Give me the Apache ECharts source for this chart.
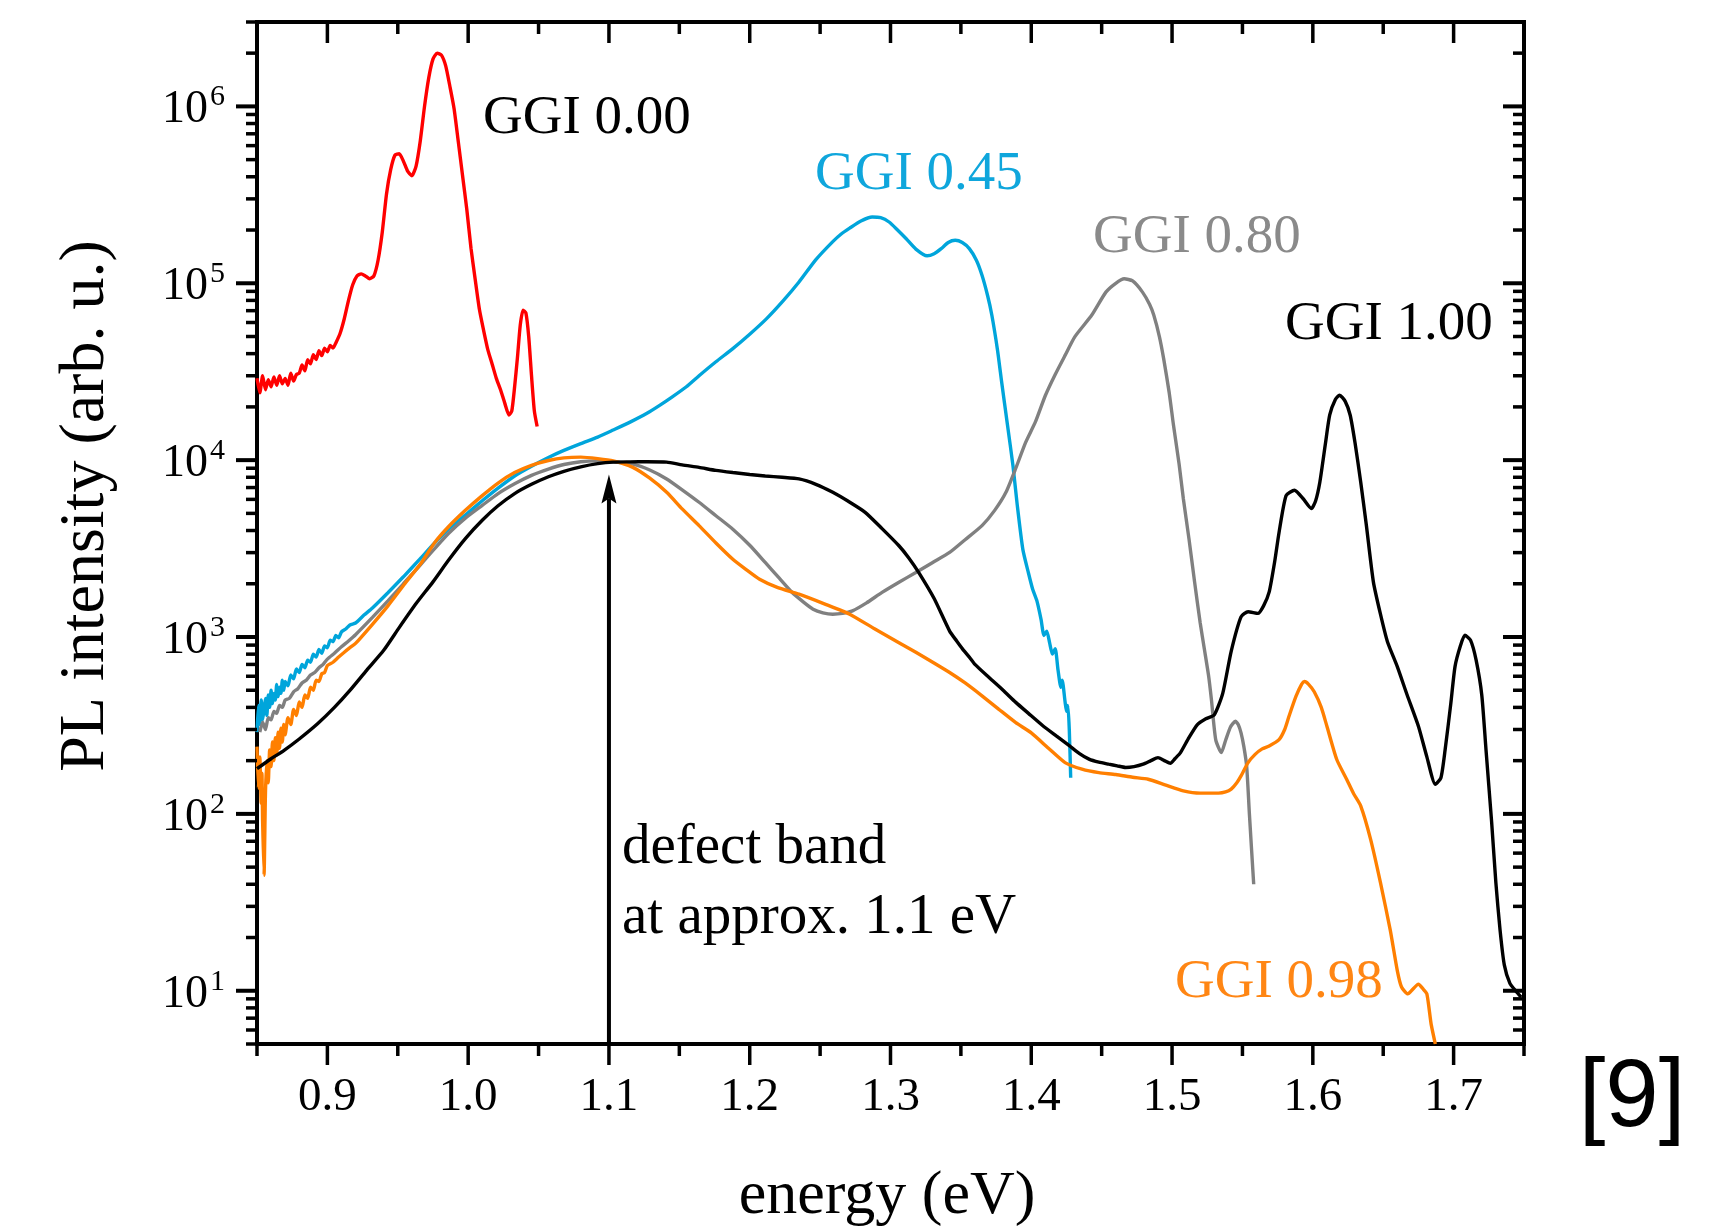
<!DOCTYPE html>
<html>
<head>
<meta charset="utf-8">
<title>PL spectra</title>
<script src="https://cdn.jsdelivr.net/npm/echarts@6/dist/echarts.min.js"></script>
<style>
  html, body { margin: 0; padding: 0; background: #fff; }
  #chart { width: 1732px; height: 1231px; }
</style>
</head>
<body>
<div id="chart"></div>
<script>
// Axis ranges
const X_MIN = 0.85, X_MAX = 1.75;
const Y_MIN = 5, Y_MAX = 3e6;

// Tick positions and labels
const xMajorTicks = [0.9, 1.0, 1.1, 1.2, 1.3, 1.4, 1.5, 1.6, 1.7];
const xTickLabels = ['0.9', '1.0', '1.1', '1.2', '1.3', '1.4', '1.5', '1.6', '1.7'];
const xMinorTicks = [0.85, 0.95, 1.05, 1.15, 1.25, 1.35, 1.45, 1.55, 1.65, 1.75];
const yMajorTicks = [1e1, 1e2, 1e3, 1e4, 1e5, 1e6];
const yTickExponents = ['1', '2', '3', '4', '5', '6'];
const yMinorTicks = [5, 6, 7, 8, 9,
  20, 30, 40, 50, 60, 70, 80, 90,
  200, 300, 400, 500, 600, 700, 800, 900,
  2e3, 3e3, 4e3, 5e3, 6e3, 7e3, 8e3, 9e3,
  2e4, 3e4, 4e4, 5e4, 6e4, 7e4, 8e4, 9e4,
  2e5, 3e5, 4e5, 5e5, 6e5, 7e5, 8e5, 9e5,
  2e6, 3e6];

// GGI 0.00
const ggi000Energy = [0.850,0.852,0.854,0.856,0.858,0.860,0.862,0.864,0.866,0.868,0.870,0.872,0.874,0.876,0.878,0.880,0.882,0.884,0.886,0.888,0.890,0.892,0.894,0.896,0.898,0.900,0.902,0.904,0.906,0.909,0.912,0.915,0.918,0.921,0.924,0.927,0.930,0.933,0.936,0.939,0.942,0.945,0.948,0.951,0.954,0.957,0.960,0.963,0.966,0.969,0.972,0.975,0.978,0.981,0.984,0.987,0.990,0.993,0.996,0.999,1.002,1.005,1.008,1.011,1.014,1.017,1.020,1.023,1.026,1.029,1.031,1.033,1.035,1.037,1.039,1.041,1.043,1.045,1.047,1.049];
const ggi000Intensity = [29000,24000,30000,25000,28500,26000,29500,26500,30000,27000,29000,26500,31000,28000,30500,31000,34500,32000,37000,35000,39500,37000,41500,39000,43000,41000,44500,43000,46000,52000,63000,80000,98000,110000,113000,110000,106000,110000,135000,195000,320000,440000,530000,540000,490000,430000,405000,460000,640000,1000000,1450000,1850000,2000000,1950000,1700000,1300000,970000,630000,407000,263000,158000,105000,71000,54000,42000,35000,29000,25000,21000,18000,19000,26000,38000,58000,70500,68000,50000,30000,19000,15500];

// GGI 0.45
const ggi045Energy = [0.850,0.851,0.852,0.853,0.854,0.855,0.856,0.857,0.858,0.859,0.860,0.861,0.862,0.863,0.864,0.865,0.866,0.867,0.868,0.869,0.870,0.872,0.874,0.876,0.878,0.880,0.882,0.884,0.886,0.888,0.890,0.892,0.894,0.896,0.898,0.900,0.902,0.904,0.906,0.908,0.910,0.913,0.916,0.920,0.926,0.932,0.943,0.954,0.965,0.976,0.986,0.998,1.010,1.021,1.033,1.045,1.057,1.068,1.080,1.092,1.103,1.115,1.127,1.136,1.145,1.155,1.164,1.176,1.188,1.200,1.212,1.224,1.235,1.247,1.259,1.265,1.271,1.279,1.287,1.293,1.299,1.305,1.311,1.318,1.326,1.331,1.336,1.341,1.346,1.351,1.356,1.361,1.365,1.369,1.372,1.376,1.379,1.383,1.387,1.390,1.394,1.398,1.401,1.404,1.407,1.409,1.411,1.413,1.415,1.417,1.419,1.421,1.422,1.424,1.425,1.426,1.427,1.428];
const ggi045Intensity = [290,410,320,440,340,390,450,360,470,400,500,420,480,440,540,460,520,480,570,500,560,530,610,580,660,630,700,670,740,720,800,770,850,810,890,870,960,940,1020,990,1070,1110,1170,1200,1330,1460,1780,2190,2720,3390,4070,4900,5890,6920,8130,9230,10350,11350,12400,13500,14800,16400,18400,20400,22800,26000,30000,36000,42700,51500,63100,80000,101600,136000,172000,190000,205000,225000,237000,235000,222000,200000,179000,156000,143000,147000,157000,170000,175000,170000,157000,135000,111000,85000,66000,42000,27500,16000,9300,5600,3130,2300,1860,1600,1250,1020,1080,930,800,860,650,520,570,430,380,410,300,160];

// GGI 0.80
const ggi080Energy = [0.852,0.854,0.856,0.858,0.860,0.862,0.864,0.866,0.868,0.870,0.873,0.876,0.879,0.882,0.885,0.888,0.891,0.894,0.897,0.900,0.905,0.910,0.915,0.920,0.932,0.943,0.954,0.965,0.976,0.986,0.998,1.010,1.021,1.033,1.045,1.057,1.068,1.080,1.092,1.103,1.117,1.129,1.141,1.152,1.164,1.176,1.188,1.200,1.211,1.221,1.230,1.238,1.245,1.252,1.259,1.266,1.273,1.283,1.294,1.306,1.318,1.330,1.342,1.353,1.365,1.374,1.382,1.389,1.396,1.403,1.410,1.417,1.424,1.431,1.443,1.453,1.460,1.466,1.472,1.479,1.484,1.487,1.491,1.494,1.498,1.501,1.505,1.508,1.512,1.516,1.520,1.523,1.526,1.528,1.531,1.535,1.538,1.5415,1.545,1.547,1.549,1.551,1.553,1.555,1.558];
const ggi080Intensity = [290,330,300,350,340,380,370,410,400,440,450,490,510,550,570,610,630,670,700,750,810,880,950,1030,1290,1600,2000,2500,3150,3850,4700,5550,6450,7350,8200,8900,9450,9800,9900,9800,9500,8800,7830,6800,5780,4850,4070,3300,2640,2150,1790,1580,1435,1370,1346,1360,1406,1560,1787,2040,2317,2640,3007,3550,4265,5200,6580,9000,12600,16500,23200,30500,39100,49900,66100,89100,100000,106000,103000,89100,76000,66100,50000,37600,24000,15800,9500,6070,3600,2050,1200,850,600,440,263,222,260,310,334,320,287,240,186,98,40];

// GGI 0.98
const ggi098Energy = [0.850,0.851,0.852,0.853,0.8535,0.854,0.855,0.856,0.857,0.858,0.859,0.860,0.861,0.862,0.863,0.864,0.865,0.866,0.867,0.868,0.869,0.870,0.872,0.874,0.876,0.878,0.880,0.882,0.884,0.886,0.888,0.890,0.892,0.894,0.896,0.898,0.900,0.904,0.908,0.912,0.916,0.920,0.932,0.943,0.955,0.967,0.976,0.986,0.998,1.010,1.021,1.033,1.045,1.057,1.068,1.080,1.092,1.103,1.117,1.129,1.141,1.152,1.164,1.176,1.188,1.197,1.207,1.220,1.235,1.253,1.271,1.288,1.306,1.318,1.330,1.342,1.353,1.365,1.377,1.389,1.400,1.413,1.424,1.436,1.448,1.460,1.472,1.483,1.495,1.508,1.520,1.533,1.538,1.542,1.546,1.549,1.554,1.559,1.564,1.569,1.576,1.580,1.583,1.588,1.592,1.594,1.597,1.601,1.606,1.610,1.617,1.624,1.629,1.634,1.641,1.648,1.655,1.660,1.663,1.6675,1.671,1.675,1.678,1.681,1.684,1.687];
const ggi098Intensity = [240,140,210,115,170,90,45,130,200,150,230,185,255,200,270,215,290,235,305,255,320,280,350,320,390,360,430,400,470,450,520,500,570,560,620,630,690,720,770,820,870,920,1180,1500,2000,2650,3400,4200,5200,6300,7400,8500,9350,9950,10300,10400,10200,9900,9100,7900,6580,5300,4265,3400,2750,2420,2120,1900,1747,1540,1346,1120,929,820,720,630,550,465,390,328,287,232,195,179,171,167,161,157,146,135,131,131,133,138,150,164,195,217,233,242,263,300,355,461,540,560,540,490,400,313,203,157,130,111,72,41,22,13,10.5,9.6,10.2,10.9,10.3,9.6,6.5,5];

// GGI 1.00
const ggi100Energy = [0.850,0.860,0.869,0.880,0.893,0.905,0.916,0.928,0.940,0.951,0.963,0.975,0.986,0.998,1.010,1.021,1.033,1.045,1.057,1.068,1.080,1.092,1.103,1.115,1.127,1.141,1.152,1.164,1.176,1.188,1.200,1.211,1.223,1.235,1.247,1.259,1.270,1.282,1.294,1.306,1.313,1.320,1.331,1.342,1.347,1.351,1.356,1.360,1.370,1.380,1.389,1.398,1.408,1.418,1.427,1.434,1.441,1.448,1.455,1.461,1.467,1.473,1.4795,1.485,1.490,1.4945,1.4988,1.502,1.506,1.512,1.518,1.524,1.530,1.536,1.542,1.549,1.554,1.561,1.565,1.569,1.573,1.576,1.581,1.587,1.593,1.599,1.602,1.605,1.609,1.612,1.616,1.619,1.623,1.6265,1.630,1.634,1.638,1.643,1.648,1.653,1.660,1.667,1.675,1.681,1.687,1.691,1.694,1.698,1.701,1.705,1.708,1.712,1.716,1.720,1.723,1.727,1.730,1.733,1.736,1.740,1.744,1.748];
const ggi100Intensity = [180,205,228,265,323,400,499,650,841,1130,1545,2050,2716,3600,4571,5500,6471,7300,8054,8650,9162,9550,9750,9780,9800,9750,9400,9100,8750,8510,8300,8130,8000,7830,7300,6580,5850,5070,4100,3280,2800,2320,1650,1080,950,860,770,700,590,500,427,370,316,275,243,220,204,196,191,187,183,185,191,200,208,200,193,205,222,270,320,345,363,480,830,1300,1390,1360,1500,1800,2700,3900,6300,6760,6070,5320,5900,7530,12500,18000,22000,23300,21500,18000,12500,7530,4300,2050,1350,940,680,470,313,210,147,160,231,420,680,900,1023,960,740,470,231,90,41,22,14,11,10,9.2];

// Defect band marker
const defectEnergy = 1.1;
const defectArrowTip = 8300;

const SERIF = '"Liberation Serif", "Times New Roman", serif';

function zip(xs, ys) { return xs.map((x, i) => [x, ys[i]]); }

function spectrum(name, color, xs, ys) {
  return {
    name: name,
    type: 'line',
    data: zip(xs, ys),
    showSymbol: false,
    symbol: 'none',
    smooth: 0.2,
    lineStyle: { color: color, width: 3.4 },
    silent: true,
    z: 3
  };
}

const chart = echarts.init(document.getElementById('chart'), null, { renderer: 'canvas' });

const option = {
  backgroundColor: '#ffffff',
  animation: false,
  grid: {
    left: 257, right: 208, top: 22, bottom: 187,
    show: true, borderColor: '#000', borderWidth: 4, backgroundColor: 'transparent'
  },
  xAxis: {
    type: 'value', min: X_MIN, max: X_MAX,
    axisLine: { show: false }, axisTick: { show: false },
    axisLabel: { show: false }, splitLine: { show: false }
  },
  yAxis: {
    type: 'log', logBase: 10, min: Y_MIN, max: Y_MAX,
    axisLine: { show: false }, axisTick: { show: false },
    axisLabel: { show: false }, splitLine: { show: false }, minorTick: { show: false }
  },
  series: [
    spectrum('GGI 0.00', '#ff0000', ggi000Energy, ggi000Intensity),
    spectrum('GGI 0.45', '#00a5db', ggi045Energy, ggi045Intensity),
    spectrum('GGI 0.80', '#808080', ggi080Energy, ggi080Intensity),
    spectrum('GGI 0.98', '#ff7f00', ggi098Energy, ggi098Intensity),
    spectrum('GGI 1.00', '#000000', ggi100Energy, ggi100Intensity),
    {
      // arrow pointing at the defect band
      type: 'custom', silent: true, z: 5, clip: false,
      data: [[defectEnergy, defectArrowTip]],
      renderItem: function (params, api) {
        const tip = api.coord([api.value(0), api.value(1)]);
        const base = api.coord([api.value(0), Y_MIN]);
        const headLen = 29, half = 7.5, notch = 5;
        return {
          type: 'group',
          children: [
            { type: 'line', shape: { x1: base[0], y1: base[1], x2: tip[0], y2: tip[1] + headLen - notch },
              style: { stroke: '#000', lineWidth: 4 } },
            { type: 'polygon', shape: { points: [
                [tip[0], tip[1]], [tip[0] + half, tip[1] + headLen], [tip[0], tip[1] + headLen - notch], [tip[0] - half, tip[1] + headLen]
              ] }, style: { fill: '#000' } }
          ]
        };
      }
    },
    {
      // major ticks and labels on the energy axis
      type: 'custom', silent: true, z: 10, clip: false,
      data: xMajorTicks.map(v => [v, Y_MIN]),
      renderItem: function (params, api) {
        const v = api.value(0);
        const pb = api.coord([v, Y_MIN]);
        const pt = api.coord([v, Y_MAX]);
        return {
          type: 'group',
          children: [
            { type: 'line', shape: { x1: pb[0], y1: pb[1], x2: pb[0], y2: pb[1] + 21 }, style: { stroke: '#000', lineWidth: 3.5 } },
            { type: 'line', shape: { x1: pt[0], y1: pt[1], x2: pt[0], y2: pt[1] + 21 }, style: { stroke: '#000', lineWidth: 3.5 } },
            { type: 'text', style: { text: xTickLabels[params.dataIndex], x: pb[0], y: pb[1] + 54,
              align: 'center', verticalAlign: 'middle', font: '47px ' + SERIF, fill: '#000' } }
          ]
        };
      }
    },
    {
      // minor ticks on the energy axis
      type: 'custom', silent: true, z: 10, clip: false,
      data: xMinorTicks.map(v => [v, Y_MIN]),
      renderItem: function (params, api) {
        const v = api.value(0);
        const pb = api.coord([v, Y_MIN]);
        const pt = api.coord([v, Y_MAX]);
        return {
          type: 'group',
          children: [
            { type: 'line', shape: { x1: pb[0], y1: pb[1], x2: pb[0], y2: pb[1] + 12 }, style: { stroke: '#000', lineWidth: 3.5 } },
            { type: 'line', shape: { x1: pt[0], y1: pt[1], x2: pt[0], y2: pt[1] + 12 }, style: { stroke: '#000', lineWidth: 3.5 } }
          ]
        };
      }
    },
    {
      // decade ticks and labels on the intensity axis
      type: 'custom', silent: true, z: 10, clip: false,
      data: yMajorTicks.map(v => [X_MIN, v]),
      renderItem: function (params, api) {
        const v = api.value(1);
        const pl = api.coord([X_MIN, v]);
        const pr = api.coord([X_MAX, v]);
        return {
          type: 'group',
          children: [
            { type: 'line', shape: { x1: pl[0] - 21, y1: pl[1], x2: pl[0], y2: pl[1] }, style: { stroke: '#000', lineWidth: 4 } },
            { type: 'line', shape: { x1: pr[0] - 21, y1: pr[1], x2: pr[0], y2: pr[1] }, style: { stroke: '#000', lineWidth: 4 } },
            { type: 'text', style: { text: '10', x: pl[0] - 49, y: pl[1] + 4,
              align: 'right', verticalAlign: 'middle', font: '46px ' + SERIF, fill: '#000' } },
            { type: 'text', style: { text: yTickExponents[params.dataIndex], x: pl[0] - 47, y: pl[1] - 9,
              align: 'left', verticalAlign: 'middle', font: '30px ' + SERIF, fill: '#000' } }
          ]
        };
      }
    },
    {
      // minor ticks on the intensity axis
      type: 'custom', silent: true, z: 10, clip: false,
      data: yMinorTicks.map(v => [X_MIN, v]),
      renderItem: function (params, api) {
        const v = api.value(1);
        const pl = api.coord([X_MIN, v]);
        const pr = api.coord([X_MAX, v]);
        return {
          type: 'group',
          children: [
            { type: 'line', shape: { x1: pl[0] - 11, y1: pl[1], x2: pl[0], y2: pl[1] }, style: { stroke: '#000', lineWidth: 3.5 } },
            { type: 'line', shape: { x1: pr[0] - 11, y1: pr[1], x2: pr[0], y2: pr[1] }, style: { stroke: '#000', lineWidth: 3.5 } }
          ]
        };
      }
    }
  ],
  graphic: [
    { type: 'text', x: 483, y: 119, style: { text: 'GGI 0.00', font: '55px ' + SERIF, fill: '#000', align: 'left', verticalAlign: 'middle' } },
    { type: 'text', x: 815, y: 175, style: { text: 'GGI 0.45', font: '55px ' + SERIF, fill: '#0fa6dc', align: 'left', verticalAlign: 'middle' } },
    { type: 'text', x: 1093, y: 238, style: { text: 'GGI 0.80', font: '55px ' + SERIF, fill: '#8a8a8a', align: 'left', verticalAlign: 'middle' } },
    { type: 'text', x: 1285, y: 325, style: { text: 'GGI 1.00', font: '55px ' + SERIF, fill: '#000', align: 'left', verticalAlign: 'middle' } },
    { type: 'text', x: 1175, y: 983, style: { text: 'GGI 0.98', font: '55px ' + SERIF, fill: '#ff8614', align: 'left', verticalAlign: 'middle' } },
    { type: 'text', x: 622, y: 848, style: { text: 'defect band', font: '57px ' + SERIF, fill: '#000', align: 'left', verticalAlign: 'middle' } },
    { type: 'text', x: 622, y: 918, style: { text: 'at approx. 1.1 eV', font: '57px ' + SERIF, fill: '#000', align: 'left', verticalAlign: 'middle' } },
    { type: 'text', x: 887, y: 1197, style: { text: 'energy (eV)', font: '62px ' + SERIF, fill: '#000', align: 'center', verticalAlign: 'middle' } },
    { type: 'text', x: 86, y: 506, rotation: Math.PI / 2, style: { text: 'PL intensity (arb. u.)', font: '64px ' + SERIF, fill: '#000', align: 'center', verticalAlign: 'middle' } },
    { type: 'text', x: 1632, y: 1100, style: { text: '[9]', font: '96px "Liberation Sans", Arial, sans-serif', fill: '#000', align: 'center', verticalAlign: 'middle' } }
  ]
};

chart.setOption(option);
</script>
</body>
</html>
